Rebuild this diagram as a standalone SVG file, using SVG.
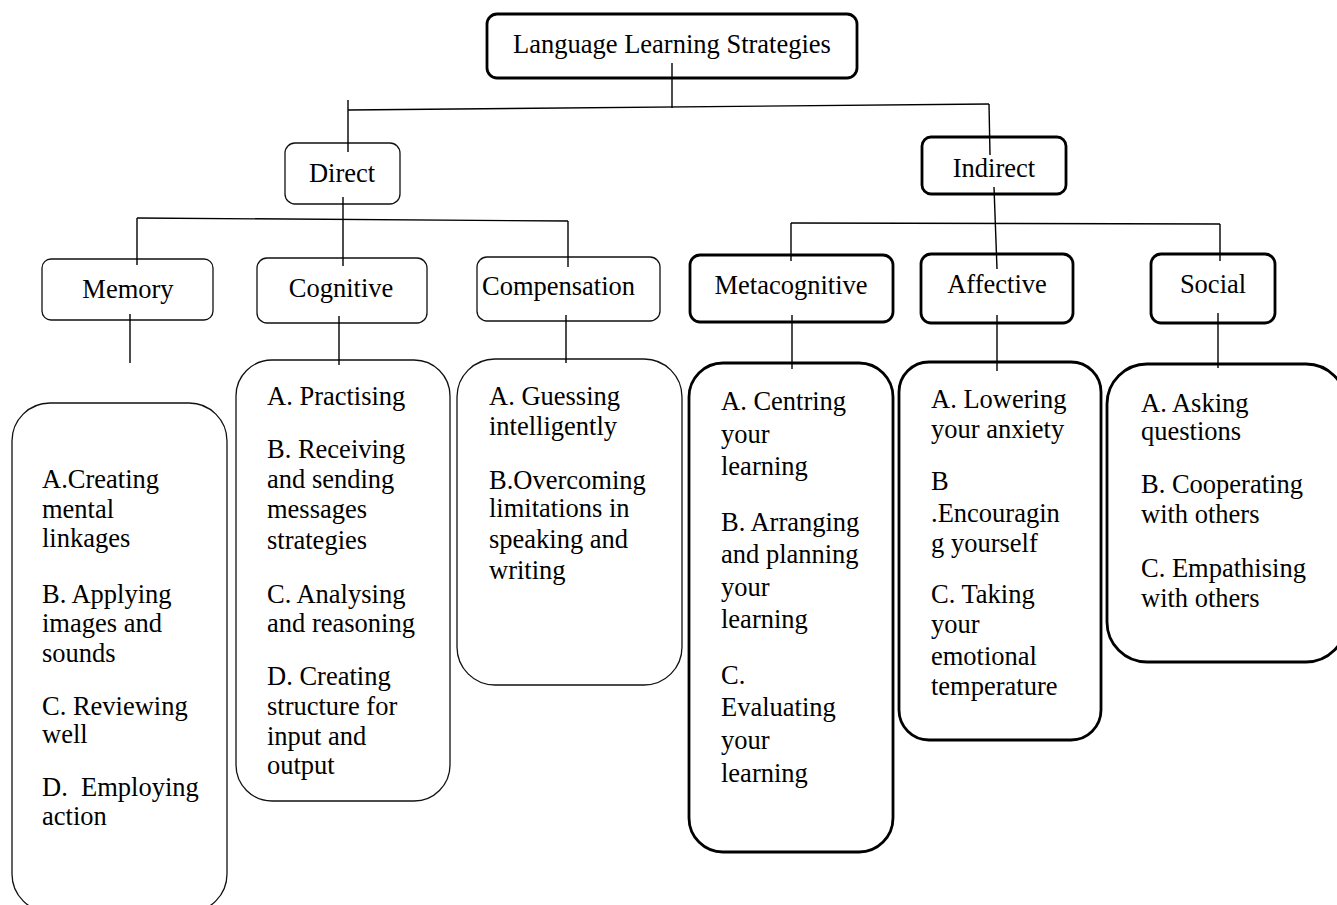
<svg xmlns="http://www.w3.org/2000/svg" width="1337" height="905" viewBox="0 0 1337 905">
<style>
.bg{fill:#fff}
.thin{fill:none;stroke:#111;stroke-width:1.3}
.thick{fill:none;stroke:#000;stroke-width:2.8}
.t{font-family:"Liberation Serif","Times New Roman",serif;font-size:26.5px;fill:#000}
.c{text-anchor:middle}
.pre{white-space:pre}
#connectors line{stroke:#000;stroke-width:1.4}
</style>
<rect class="bg" x="0" y="0" width="1337" height="905"/>

<g id="root">
<rect class="thick" x="487" y="14" width="370" height="64" rx="10"/>
<text class="t c" x="672" y="53">Language Learning Strategies</text>
</g>

<g id="direct">
<rect class="thin" x="285" y="143" width="115" height="61" rx="10"/>
<text class="t c" x="342" y="182">Direct</text>
</g>

<g id="indirect">
<rect class="thick" x="922" y="137" width="144" height="57" rx="9"/>
<text class="t c" x="994" y="177">Indirect</text>
</g>

<g id="memory">
<rect class="thin" x="42" y="259" width="171" height="61" rx="9"/>
<text class="t c" x="128" y="298">Memory</text>
</g>

<g id="cognitive">
<rect class="thin" x="257" y="258" width="170" height="65" rx="10"/>
<text class="t c" x="341" y="297">Cognitive</text>
</g>

<g id="compensation">
<rect class="thin" x="477" y="257" width="183" height="64" rx="10"/>
<text class="t" x="482" y="295">Compensation</text>
</g>

<g id="metacognitive">
<rect class="thick" x="690" y="255" width="203" height="67" rx="10"/>
<text class="t c" x="791" y="294">Metacognitive</text>
</g>

<g id="affective">
<rect class="thick" x="921" y="254" width="152" height="69" rx="10"/>
<text class="t c" x="997" y="293">Affective</text>
</g>

<g id="social">
<rect class="thick" x="1151" y="254" width="124" height="69" rx="10"/>
<text class="t c" x="1213" y="293">Social</text>
</g>

<g id="memory-list">
<rect class="thin" x="12" y="403" width="215" height="509" rx="38"/>
<text class="t pre">
<tspan x="42" y="488">A.Creating</tspan>
<tspan x="42" y="518">mental</tspan>
<tspan x="42" y="547">linkages</tspan>
<tspan x="42" y="603">B. Applying</tspan>
<tspan x="42" y="632">images and</tspan>
<tspan x="42" y="662">sounds</tspan>
<tspan x="42" y="715">C. Reviewing</tspan>
<tspan x="42" y="743">well</tspan>
<tspan x="42" y="796">D.  Employing</tspan>
<tspan x="42" y="825">action</tspan>
</text>
</g>

<g id="cognitive-list">
<rect class="thin" x="236" y="360" width="214" height="441" rx="36"/>
<text class="t">
<tspan x="267" y="405">A. Practising</tspan>
<tspan x="267" y="458">B. Receiving</tspan>
<tspan x="267" y="488">and sending</tspan>
<tspan x="267" y="518">messages</tspan>
<tspan x="267" y="549">strategies</tspan>
<tspan x="267" y="603">C. Analysing</tspan>
<tspan x="267" y="632">and reasoning</tspan>
<tspan x="267" y="685">D. Creating</tspan>
<tspan x="267" y="715">structure for</tspan>
<tspan x="267" y="745">input and</tspan>
<tspan x="267" y="774">output</tspan>
</text>
</g>

<g id="compensation-list">
<rect class="thin" x="457" y="359" width="225" height="326" rx="38"/>
<text class="t">
<tspan x="489" y="405">A. Guessing</tspan>
<tspan x="489" y="435">intelligently</tspan>
<tspan x="489" y="489">B.Overcoming</tspan>
<tspan x="489" y="517">limitations in</tspan>
<tspan x="489" y="548">speaking and</tspan>
<tspan x="489" y="579">writing</tspan>
</text>
</g>

<g id="metacognitive-list">
<rect class="thick" x="689" y="363" width="204" height="489" rx="34"/>
<text class="t">
<tspan x="721" y="410">A. Centring</tspan>
<tspan x="721" y="443">your</tspan>
<tspan x="721" y="475">learning</tspan>
<tspan x="721" y="531">B. Arranging</tspan>
<tspan x="721" y="563">and planning</tspan>
<tspan x="721" y="596">your</tspan>
<tspan x="721" y="628">learning</tspan>
<tspan x="721" y="684">C.</tspan>
<tspan x="721" y="716">Evaluating</tspan>
<tspan x="721" y="749">your</tspan>
<tspan x="721" y="782">learning</tspan>
</text>
</g>

<g id="affective-list">
<rect class="thick" x="899" y="362" width="202" height="378" rx="30"/>
<text class="t">
<tspan x="931" y="408">A. Lowering</tspan>
<tspan x="931" y="438">your anxiety</tspan>
<tspan x="931" y="490">B</tspan>
<tspan x="931" y="522">.Encouragin</tspan>
<tspan x="931" y="552">g yourself</tspan>
<tspan x="931" y="603">C. Taking</tspan>
<tspan x="931" y="633">your</tspan>
<tspan x="931" y="665">emotional</tspan>
<tspan x="931" y="695">temperature</tspan>
</text>
</g>

<g id="social-list">
<rect class="thick" x="1107" y="364" width="239" height="298" rx="40"/>
<text class="t">
<tspan x="1141" y="412">A. Asking</tspan>
<tspan x="1141" y="440">questions</tspan>
<tspan x="1141" y="493">B. Cooperating</tspan>
<tspan x="1141" y="523">with others</tspan>
<tspan x="1141" y="577">C. Empathising</tspan>
<tspan x="1141" y="607">with others</tspan>
</text>
</g>

<g id="connectors">
<line x1="672" y1="63" x2="672" y2="108"/>
<line x1="348" y1="110" x2="989" y2="104"/>
<line x1="348" y1="100" x2="348" y2="152"/>
<line x1="989" y1="104" x2="990" y2="155"/>
<line x1="343" y1="197" x2="343" y2="266"/>
<line x1="137" y1="218" x2="568" y2="221"/>
<line x1="137" y1="218" x2="137" y2="265"/>
<line x1="568" y1="221" x2="568" y2="267"/>
<line x1="994" y1="187" x2="997" y2="269"/>
<line x1="791" y1="223" x2="1220" y2="224"/>
<line x1="791" y1="223" x2="791" y2="261"/>
<line x1="1220" y1="224" x2="1220" y2="261"/>
<line x1="130" y1="314" x2="130" y2="363"/>
<line x1="339" y1="316" x2="339" y2="365"/>
<line x1="566" y1="315" x2="566" y2="363"/>
<line x1="792" y1="315" x2="792" y2="369"/>
<line x1="997" y1="315" x2="997" y2="371"/>
<line x1="1218" y1="313" x2="1218" y2="368"/>
</g>
</svg>
